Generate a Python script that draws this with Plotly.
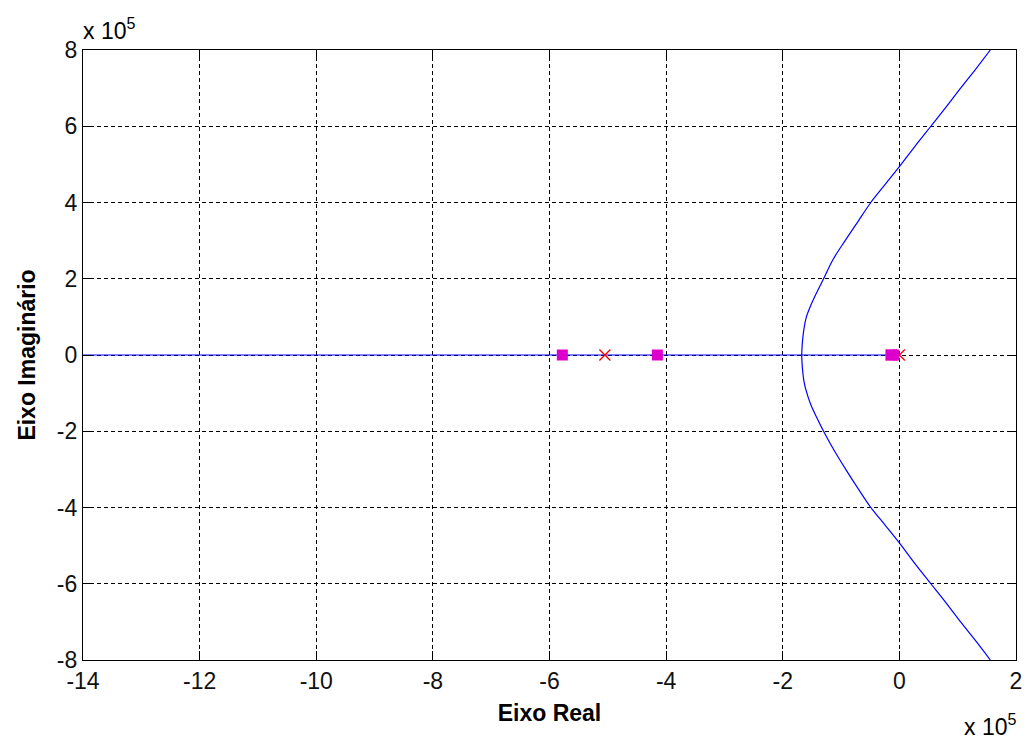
import plotly.graph_objects as go

# Values in units of 1e5
SCALE_EXP = 5

# Real-axis segment of the locus
axis_re = [-14.0, -0.12]
axis_im = [0.0, 0.0]

# Upper complex branch
upper_im = [0.0, 0.3, 0.7, 1.0, 1.3, 1.6, 2.0, 2.5, 3.0, 3.5, 4.0, 4.5, 4.94, 5.5, 6.0, 6.5, 7.0, 7.5, 8.0]
upper_re = [-1.675, -1.665, -1.635, -1.595, -1.52, -1.43, -1.30, -1.14, -0.93, -0.71, -0.49, -0.23, 0.0, 0.28, 0.54, 0.80, 1.05, 1.31, 1.56]

# Lower complex branch
lower_im = [0.0, -0.3, -0.7, -0.93, -1.3, -1.6, -2.0, -2.5, -3.0, -3.5, -4.0, -4.48, -4.93, -5.5, -6.0, -6.5, -7.0, -7.5, -8.0]
lower_re = [-1.675, -1.665, -1.635, -1.60, -1.52, -1.43, -1.30, -1.12, -0.92, -0.71, -0.49, -0.235, 0.0, 0.28, 0.54, 0.80, 1.05, 1.31, 1.56]

# Open-loop poles (x) and closed-loop poles (squares)
poles_re = [-5.05, -0.13, 0.0]
poles_im = [0.0, 0.0, 0.0]
cl_re = [-5.78, -4.15, -0.145, -0.095]
cl_im = [0.0, 0.0, 0.0, 0.0]

x_ticks = [-14, -12, -10, -8, -6, -4, -2, 0, 2]
y_ticks = [-8, -6, -4, -2, 0, 2, 4, 6, 8]

BLUE = "#0000ff"
MAGENTA = "#dd00cc"
FONT = "Liberation Sans, Arial, sans-serif"

fig = go.Figure()

fig.add_trace(go.Scatter(x=axis_re, y=axis_im, mode="lines",
                         line=dict(color=BLUE, width=1.2), hoverinfo="skip"))
fig.add_trace(go.Scatter(x=upper_re, y=upper_im, mode="lines",
                         line=dict(color=BLUE, width=1.2, shape="spline", smoothing=0.8),
                         hoverinfo="skip"))
fig.add_trace(go.Scatter(x=lower_re, y=lower_im, mode="lines",
                         line=dict(color=BLUE, width=1.2, shape="spline", smoothing=0.8),
                         hoverinfo="skip"))
fig.add_trace(go.Scatter(x=poles_re, y=poles_im, mode="markers",
                         marker=dict(symbol="x-thin-open", size=11, color="red",
                                     line=dict(color="red", width=1.3))))
fig.add_trace(go.Scatter(x=cl_re, y=cl_im, mode="markers",
                         marker=dict(symbol="square", size=11, color=MAGENTA,
                                     line=dict(width=0))))

axis_common = dict(
    showline=True, linecolor="black", linewidth=1.2, mirror="ticks",
    ticks="inside", ticklen=9, tickcolor="black", tickwidth=1,
    showgrid=True, gridcolor="black", gridwidth=1, griddash="4px,3px",
    zeroline=False, automargin=False,
    tickfont=dict(family=FONT, size=23, color="#111111"),
)

fig.update_xaxes(
    range=[-14, 2], tickvals=x_ticks, ticktext=[str(v) for v in x_ticks],
    title=dict(text="<b>Eixo Real</b>", font=dict(family=FONT, size=23, color="black"),
               standoff=12),
    **axis_common,
)
fig.update_yaxes(
    range=[-8, 8], tickvals=y_ticks, ticktext=[str(v) for v in y_ticks],
    title=dict(text="<b>Eixo Imaginário</b>", font=dict(family=FONT, size=23, color="black"),
               standoff=14),
    **axis_common,
)

fig.add_annotation(text=f"x 10<sup>{SCALE_EXP}</sup>", xref="paper", yref="paper",
                   x=0, y=1, xanchor="left", yanchor="bottom", showarrow=False,
                   xshift=-2, yshift=4,
                   font=dict(family=FONT, size=23, color="black"))
fig.add_annotation(text=f"x 10<sup>{SCALE_EXP}</sup>", xref="paper", yref="paper",
                   x=1, y=0, xanchor="right", yanchor="top", showarrow=False,
                   xshift=2, yshift=-48,
                   font=dict(family=FONT, size=23, color="black"))

fig.update_layout(
    width=1027, height=744,
    margin=dict(l=83, r=11, t=50, b=84),
    paper_bgcolor="white", plot_bgcolor="white",
    showlegend=False,
)

fig.write_html("out.html")
